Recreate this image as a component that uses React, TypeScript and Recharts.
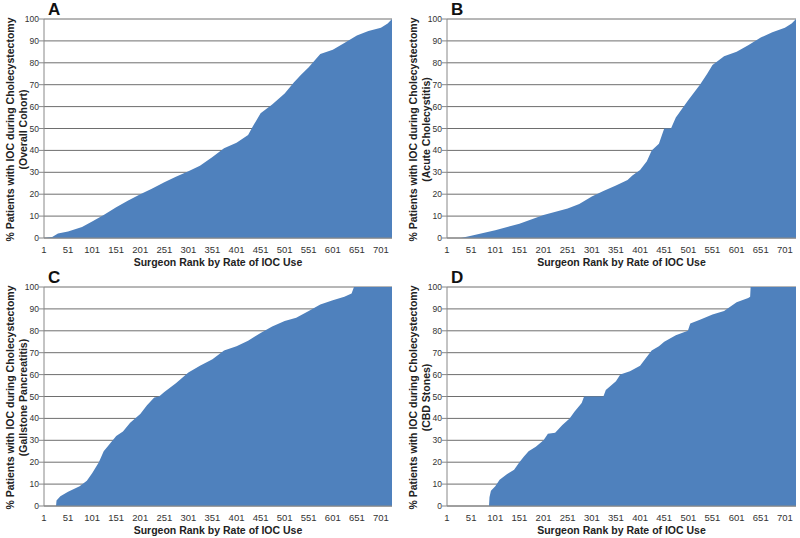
import React from "react";
import { AreaChart, Area, XAxis, YAxis, CartesianGrid, Label } from "recharts";

const ranksA = [1, 18, 30, 51, 80, 101, 125, 151, 175, 201, 225, 251, 275, 301, 325, 351, 375, 401, 425, 435, 451, 475, 501, 520, 535, 551, 575, 601, 625, 651, 675, 701, 715, 724];
const valuesA = [0, 0.5, 2, 3, 5, 7.5, 10.5, 14, 17, 20, 22.5, 25.5, 28, 30.5, 33, 37, 41, 43.5, 47, 51, 57, 61, 66, 71, 74.5, 78, 84, 86, 89, 92.5, 94.5, 96, 98, 100];

const ranksB = [1, 30, 51, 101, 151, 201, 251, 275, 301, 325, 351, 375, 385, 401, 415, 425, 440, 451, 465, 475, 501, 525, 540, 551, 575, 601, 625, 651, 675, 701, 715, 724];
const valuesB = [0, 0, 1, 3.5, 6.5, 10.5, 13.5, 15.5, 19, 21.5, 24, 26.5, 28.5, 31, 35, 40, 43, 50, 50, 55, 63, 70, 75, 79, 83, 85, 88, 91.5, 94, 96, 98, 100];

const ranksC = [1, 26, 27, 35, 51, 75, 90, 101, 115, 125, 140, 151, 165, 180, 201, 215, 230, 240, 251, 275, 301, 325, 351, 375, 401, 425, 451, 475, 501, 525, 551, 575, 601, 625, 640, 645, 724];
const valuesC = [0, 0, 2.5, 4.5, 6.5, 9, 11.5, 15, 20, 25, 29, 32, 34, 38, 42, 46, 49.5, 50, 52, 56, 61, 64, 67, 71, 73, 75.5, 79, 82, 84.5, 86, 89, 92, 94, 95.5, 97, 100, 100];

const ranksD = [1, 88, 89, 92, 101, 110, 125, 140, 151, 160, 170, 185, 201, 210, 225, 240, 255, 265, 280, 285, 325, 330, 351, 360, 380, 401, 410, 425, 440, 451, 475, 500, 505, 525, 551, 575, 601, 625, 629, 630, 724];
const valuesD = [0, 0, 4, 7, 9, 12, 14.5, 16.5, 20, 22.5, 25, 27, 30, 33, 33.5, 37, 40, 43, 47, 50, 50, 53, 57, 60, 61.5, 64, 66.7, 71, 73, 75, 78, 80, 83.3, 85, 87.5, 89, 93, 95, 95.5, 100, 100];

const xTicks = [1, 51, 101, 151, 201, 251, 301, 351, 401, 451, 501, 551, 601, 651, 701];
const yTicks = [0, 10, 20, 30, 40, 50, 60, 70, 80, 90, 100];

const panels = [
  { letter: "A", sub: "(Overall Cohort)", ranks: ranksA, values: valuesA, left: 0, top: 0, yw: 44, right: 8 },
  { letter: "B", sub: "(Acute Cholecystitis)", ranks: ranksB, values: valuesB, left: 400, top: 0, yw: 47, right: 4 },
  { letter: "C", sub: "(Gallstone Pancreatitis)", ranks: ranksC, values: valuesC, left: 0, top: 268, yw: 44, right: 8 },
  { letter: "D", sub: "(CBD Stones)", ranks: ranksD, values: valuesD, left: 400, top: 268, yw: 47, right: 4 },
];

const FONT = "'Liberation Sans', Arial, sans-serif";
const BLUE = "#4F81BD";

function YTitle(props: any) {
  const { viewBox, sub, shift } = props;
  const cy = viewBox.y + viewBox.height / 2 + 1;
  const x1 = 13.5 + shift;
  const x2 = 27 + shift;
  return (
    <g fontFamily={FONT} fontWeight="bold" fontSize={10.5} fill="#222">
      <text x={x1} y={cy} textAnchor="middle" transform={`rotate(-90 ${x1} ${cy})`}>
        % Patients with IOC during Cholecystectomy
      </text>
      <text x={x2} y={cy} textAnchor="middle" transform={`rotate(-90 ${x2} ${cy})`}>
        {sub}
      </text>
    </g>
  );
}

function Panel({ p }: { p: (typeof panels)[number] }) {
  const data = p.ranks.map((r, i) => ({ rank: r, value: p.values[i] }));
  return (
    <div style={{ position: "absolute", left: p.left, top: p.top, width: 400, height: 269 }}>
      <AreaChart width={400} height={269} data={data} margin={{ top: 19, right: p.right, bottom: 0, left: 0 }}>
        <CartesianGrid vertical={false} stroke="#6e6e6e" strokeWidth={1} />
        <XAxis
          dataKey="rank"
          type="number"
          domain={[1, 724]}
          ticks={xTicks}
          interval={0}
          height={31}
          tickLine={false}
          axisLine={{ stroke: "#888" }}
          tick={{ fontSize: 9.5, fill: "#333", fontFamily: FONT }}
          tickMargin={2}
        >
          <Label
            value="Surgeon Rank by Rate of IOC Use"
            position="insideBottom"
            offset={3}
            style={{ fontFamily: FONT, fontWeight: "bold", fontSize: 10.5, fill: "#222" }}
          />
        </XAxis>
        <YAxis
          domain={[0, 100]}
          ticks={yTicks}
          interval={0}
          width={p.yw}
          tickSize={5}
          tickLine={{ stroke: "#888" }}
          axisLine={{ stroke: "#888" }}
          tick={{ fontSize: 8.5, fill: "#333", fontFamily: FONT }}
          tickMargin={0}
        >
          <Label content={(lp: any) => <YTitle {...lp} sub={p.sub} shift={p.yw - 44} />} />
        </YAxis>
        <Area
          type="linear"
          dataKey="value"
          stroke="none"
          fill={BLUE}
          fillOpacity={1}
          isAnimationActive={false}
        />
      </AreaChart>
      <div
        style={{
          position: "absolute",
          left: p.yw + 4,
          top: 1,
          fontFamily: FONT,
          fontWeight: "bold",
          fontSize: 17,
          color: "#111",
          lineHeight: "17px",
        }}
      >
        {p.letter}
      </div>
    </div>
  );
}

export default function App() {
  return (
    <div style={{ position: "absolute", left: 0, top: 0, width: 800, height: 538, background: "#fff" }}>
      {panels.map((p) => (
        <Panel key={p.letter} p={p} />
      ))}
    </div>
  );
}
